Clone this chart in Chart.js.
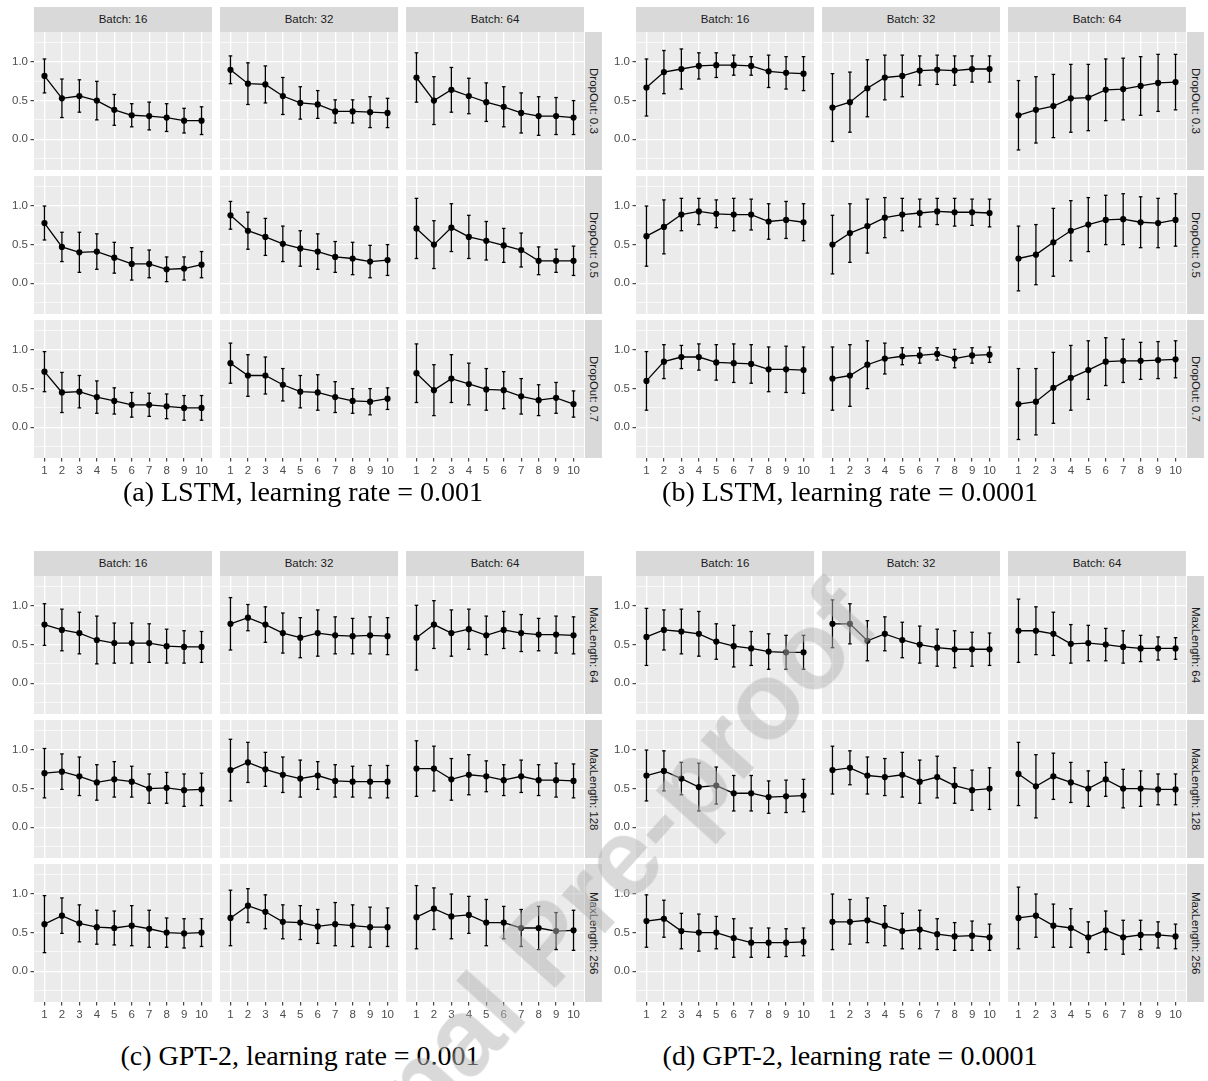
<!DOCTYPE html>
<html>
<head>
<meta charset="utf-8">
<script src="https://cdn.jsdelivr.net/npm/chart.js@4.4.1/dist/chart.umd.min.js"></script>
<style>
  html, body { margin: 0; padding: 0; background: #ffffff; }
  #fig { position: relative; width: 1208px; height: 1081px; overflow: hidden;
         font-family: "Liberation Sans", Arial, sans-serif; }
  #fig canvas { position: absolute; }
  .strip-top { position: absolute; background: #D9D9D9; color: #1A1A1A; font-size: 11.5px;
               display: flex; align-items: center; justify-content: center; white-space: nowrap; }
  .strip-right { position: absolute; background: #D9D9D9; color: #1A1A1A; font-size: 11.5px;
                 writing-mode: vertical-rl; display: flex; align-items: center; justify-content: center;
                 white-space: nowrap; }
  .caption { position: absolute; font-family: "Liberation Serif", "Times New Roman", serif;
             font-size: 28px; color: #000; white-space: nowrap; transform: translate(-50%, -50%); }
  .stamp { position: absolute; font-family: "Liberation Sans", Arial, sans-serif; font-weight: bold;
           font-size: 110px; line-height: 1; white-space: nowrap; color: rgba(180, 180, 180, 0.5);
           transform-origin: 0 100%; pointer-events: none; }
</style>
</head>
<body>
<div id="fig"></div>
<script>
// ---- shared axis values ----
const epochs = [1, 2, 3, 4, 5, 6, 7, 8, 9, 10];
const yTickValues = [-0.25, 0, 0.25, 0.5, 0.75, 1, 1.25];
const yMajorValues = [0, 0.5, 1];
const yRange = [-0.40, 1.39];
const xRange = [0.4, 10.6];

// ---- facet labels ----
const batchLabels = ['Batch: 16', 'Batch: 32', 'Batch: 64'];
const dropoutLabels = ['DropOut: 0.3', 'DropOut: 0.5', 'DropOut: 0.7'];
const maxLengthLabels = ['MaxLength: 64', 'MaxLength: 128', 'MaxLength: 256'];
const captionTexts = [
  '(a) LSTM, learning rate = 0.001',
  '(b) LSTM, learning rate = 0.0001',
  '(c) GPT-2, learning rate = 0.001',
  '(d) GPT-2, learning rate = 0.0001'
];
const stampText = 'Journal Pre-proof';

// ---- (a) LSTM, lr 0.001: rows DropOut 0.3/0.5/0.7, columns Batch 16/32/64 ----
const lstmFastMean = [
  [0.82, 0.53, 0.56, 0.50, 0.38, 0.31, 0.30, 0.28, 0.24, 0.24],
  [0.90, 0.72, 0.71, 0.56, 0.47, 0.45, 0.36, 0.36, 0.35, 0.34],
  [0.80, 0.50, 0.64, 0.56, 0.48, 0.42, 0.34, 0.30, 0.30, 0.28],
  [0.78, 0.47, 0.40, 0.41, 0.33, 0.25, 0.25, 0.18, 0.19, 0.24],
  [0.88, 0.68, 0.60, 0.51, 0.45, 0.41, 0.34, 0.32, 0.28, 0.30],
  [0.71, 0.50, 0.72, 0.60, 0.55, 0.49, 0.43, 0.29, 0.29, 0.29],
  [0.72, 0.45, 0.46, 0.39, 0.34, 0.29, 0.29, 0.27, 0.25, 0.25],
  [0.83, 0.67, 0.67, 0.55, 0.46, 0.45, 0.39, 0.34, 0.33, 0.37],
  [0.70, 0.48, 0.63, 0.56, 0.49, 0.48, 0.40, 0.35, 0.38, 0.30]
];
const lstmFastSd = [
  [0.22, 0.25, 0.21, 0.25, 0.20, 0.15, 0.18, 0.18, 0.16, 0.18],
  [0.18, 0.27, 0.24, 0.24, 0.21, 0.18, 0.15, 0.15, 0.20, 0.19],
  [0.32, 0.31, 0.29, 0.23, 0.25, 0.26, 0.26, 0.25, 0.24, 0.22],
  [0.22, 0.19, 0.26, 0.23, 0.20, 0.21, 0.18, 0.16, 0.15, 0.17],
  [0.18, 0.24, 0.24, 0.23, 0.23, 0.23, 0.20, 0.21, 0.21, 0.20],
  [0.39, 0.31, 0.31, 0.28, 0.25, 0.22, 0.22, 0.18, 0.15, 0.19],
  [0.26, 0.26, 0.21, 0.21, 0.17, 0.16, 0.15, 0.16, 0.16, 0.16],
  [0.26, 0.27, 0.24, 0.21, 0.21, 0.23, 0.20, 0.16, 0.17, 0.14],
  [0.38, 0.33, 0.31, 0.27, 0.27, 0.24, 0.23, 0.20, 0.20, 0.17]
];

// ---- (b) LSTM, lr 0.0001 ----
const lstmSlowMean = [
  [0.67, 0.87, 0.91, 0.95, 0.96, 0.96, 0.95, 0.88, 0.86, 0.85],
  [0.41, 0.48, 0.66, 0.80, 0.82, 0.89, 0.90, 0.89, 0.91, 0.91],
  [0.31, 0.38, 0.43, 0.53, 0.54, 0.64, 0.65, 0.69, 0.73, 0.74],
  [0.61, 0.73, 0.89, 0.93, 0.90, 0.89, 0.89, 0.80, 0.82, 0.79],
  [0.50, 0.65, 0.74, 0.85, 0.89, 0.91, 0.93, 0.92, 0.92, 0.91],
  [0.32, 0.37, 0.53, 0.68, 0.76, 0.82, 0.83, 0.79, 0.78, 0.82],
  [0.60, 0.85, 0.91, 0.91, 0.84, 0.83, 0.82, 0.75, 0.75, 0.74],
  [0.63, 0.67, 0.81, 0.89, 0.92, 0.93, 0.95, 0.89, 0.93, 0.94],
  [0.30, 0.33, 0.51, 0.64, 0.74, 0.85, 0.86, 0.86, 0.87, 0.88]
];
const lstmSlowSd = [
  [0.37, 0.28, 0.26, 0.17, 0.16, 0.13, 0.12, 0.21, 0.21, 0.22],
  [0.44, 0.39, 0.37, 0.29, 0.27, 0.19, 0.19, 0.19, 0.17, 0.17],
  [0.45, 0.43, 0.41, 0.44, 0.43, 0.40, 0.40, 0.38, 0.37, 0.36],
  [0.39, 0.35, 0.21, 0.17, 0.18, 0.21, 0.20, 0.23, 0.24, 0.24],
  [0.38, 0.38, 0.35, 0.26, 0.21, 0.18, 0.17, 0.18, 0.17, 0.18],
  [0.42, 0.39, 0.44, 0.39, 0.35, 0.32, 0.33, 0.33, 0.32, 0.34],
  [0.38, 0.22, 0.15, 0.17, 0.23, 0.25, 0.25, 0.29, 0.30, 0.30],
  [0.41, 0.40, 0.31, 0.20, 0.11, 0.10, 0.08, 0.12, 0.10, 0.10],
  [0.46, 0.43, 0.46, 0.42, 0.38, 0.31, 0.28, 0.24, 0.24, 0.24]
];

// ---- (c) GPT-2, lr 0.001: rows MaxLength 64/128/256 ----
const gptFastMean = [
  [0.76, 0.69, 0.65, 0.56, 0.52, 0.52, 0.52, 0.48, 0.47, 0.47],
  [0.77, 0.85, 0.76, 0.65, 0.59, 0.65, 0.62, 0.61, 0.62, 0.61],
  [0.59, 0.76, 0.65, 0.70, 0.62, 0.69, 0.65, 0.63, 0.63, 0.62],
  [0.70, 0.72, 0.66, 0.58, 0.62, 0.59, 0.50, 0.51, 0.48, 0.49],
  [0.74, 0.84, 0.75, 0.68, 0.63, 0.67, 0.60, 0.59, 0.59, 0.59],
  [0.76, 0.76, 0.62, 0.68, 0.66, 0.61, 0.66, 0.61, 0.61, 0.60],
  [0.61, 0.72, 0.62, 0.57, 0.56, 0.59, 0.55, 0.50, 0.49, 0.50],
  [0.69, 0.85, 0.77, 0.64, 0.63, 0.58, 0.61, 0.59, 0.57, 0.57],
  [0.70, 0.81, 0.71, 0.73, 0.63, 0.63, 0.56, 0.56, 0.52, 0.53]
];
const gptFastSd = [
  [0.27, 0.27, 0.27, 0.31, 0.26, 0.26, 0.25, 0.22, 0.21, 0.20],
  [0.34, 0.17, 0.23, 0.26, 0.26, 0.30, 0.24, 0.23, 0.24, 0.24],
  [0.42, 0.31, 0.30, 0.26, 0.25, 0.24, 0.24, 0.21, 0.24, 0.24],
  [0.32, 0.23, 0.25, 0.23, 0.23, 0.20, 0.19, 0.20, 0.21, 0.21],
  [0.40, 0.26, 0.22, 0.23, 0.24, 0.18, 0.21, 0.20, 0.21, 0.21],
  [0.36, 0.29, 0.27, 0.26, 0.20, 0.20, 0.21, 0.20, 0.22, 0.22],
  [0.37, 0.23, 0.24, 0.22, 0.22, 0.26, 0.24, 0.19, 0.19, 0.18],
  [0.36, 0.22, 0.22, 0.22, 0.22, 0.22, 0.28, 0.27, 0.26, 0.25],
  [0.41, 0.27, 0.29, 0.24, 0.30, 0.21, 0.24, 0.28, 0.24, 0.26]
];

// ---- (d) GPT-2, lr 0.0001 ----
const gptSlowMean = [
  [0.60, 0.69, 0.67, 0.64, 0.54, 0.48, 0.45, 0.41, 0.40, 0.40],
  [0.77, 0.77, 0.55, 0.64, 0.56, 0.50, 0.46, 0.44, 0.44, 0.44],
  [0.68, 0.68, 0.64, 0.51, 0.52, 0.50, 0.47, 0.45, 0.45, 0.45],
  [0.67, 0.73, 0.63, 0.52, 0.54, 0.44, 0.44, 0.39, 0.40, 0.41],
  [0.74, 0.77, 0.67, 0.65, 0.68, 0.59, 0.65, 0.54, 0.48, 0.50],
  [0.69, 0.53, 0.66, 0.58, 0.50, 0.62, 0.50, 0.50, 0.49, 0.49],
  [0.65, 0.68, 0.52, 0.50, 0.50, 0.43, 0.37, 0.37, 0.37, 0.38],
  [0.64, 0.64, 0.66, 0.59, 0.52, 0.54, 0.48, 0.45, 0.46, 0.44],
  [0.69, 0.72, 0.59, 0.56, 0.44, 0.53, 0.44, 0.47, 0.47, 0.45]
];
const gptSlowSd = [
  [0.37, 0.26, 0.29, 0.29, 0.23, 0.27, 0.22, 0.23, 0.22, 0.22],
  [0.31, 0.26, 0.26, 0.22, 0.23, 0.24, 0.24, 0.24, 0.22, 0.21],
  [0.41, 0.31, 0.28, 0.25, 0.23, 0.21, 0.21, 0.17, 0.15, 0.14],
  [0.33, 0.26, 0.21, 0.31, 0.24, 0.23, 0.23, 0.21, 0.21, 0.21],
  [0.31, 0.22, 0.24, 0.24, 0.29, 0.28, 0.27, 0.23, 0.26, 0.27],
  [0.41, 0.41, 0.30, 0.26, 0.23, 0.22, 0.25, 0.23, 0.20, 0.20],
  [0.34, 0.24, 0.23, 0.24, 0.21, 0.25, 0.19, 0.19, 0.18, 0.18],
  [0.36, 0.29, 0.29, 0.26, 0.23, 0.25, 0.20, 0.18, 0.19, 0.17],
  [0.40, 0.28, 0.28, 0.25, 0.20, 0.25, 0.22, 0.19, 0.17, 0.16]
];

// ---- page geometry (px) ----
const AXIS_W = 34, AXIS_H = 26;
const PANEL_W = 178, PANEL_H = 138;
const COL_STEP = 186, ROW_STEP = 144;
const PANEL_TOP = 32, STRIP_TOP = 6.5, STRIP_H = 25.5, SIDE_STRIP_W = 17;
const FONT = '"Liberation Sans", Arial, sans-serif';

const figures = [
  { ox: 0,   oy: 0,   mean: lstmFastMean, sd: lstmFastSd, rows: dropoutLabels,   cap: captionTexts[0], capX: 303, capY: 492 },
  { ox: 602, oy: 0,   mean: lstmSlowMean, sd: lstmSlowSd, rows: dropoutLabels,   cap: captionTexts[1], capX: 850, capY: 492 },
  { ox: 0,   oy: 544, mean: gptFastMean,  sd: gptFastSd,  rows: maxLengthLabels, cap: captionTexts[2], capX: 300, capY: 1056 },
  { ox: 602, oy: 544, mean: gptSlowMean,  sd: gptSlowSd,  rows: maxLengthLabels, cap: captionTexts[3], capX: 850, capY: 1056 }
];

const fig = document.getElementById('fig');
const isMajor = v => yMajorValues.some(m => Math.abs(m - v) < 1e-9);

// grey panel background behind the grid
const panelBackground = {
  id: 'panelBackground',
  beforeDraw(chart) {
    const a = chart.chartArea, ctx = chart.ctx;
    ctx.save();
    ctx.fillStyle = '#EBEBEB';
    ctx.fillRect(a.left, a.top, a.right - a.left, a.bottom - a.top);
    ctx.restore();
  }
};

function addDiv(cls, text, left, top, width, height) {
  const d = document.createElement('div');
  d.className = cls;
  d.textContent = text;
  Object.assign(d.style, { left: left + 'px', top: top + 'px', width: width + 'px', height: height + 'px' });
  fig.appendChild(d);
  return d;
}

function drawFacet(left, top, showY, showX, mean, sd) {
  const w = PANEL_W + (showY ? AXIS_W : 0);
  const h = PANEL_H + (showX ? AXIS_H : 0);
  const cv = document.createElement('canvas');
  cv.width = w; cv.height = h;
  Object.assign(cv.style, { left: (left - (showY ? AXIS_W : 0)) + 'px', top: top + 'px', width: w + 'px', height: h + 'px' });
  fig.appendChild(cv);

  const points = epochs.map((e, i) => ({ x: e, y: mean[i] }));
  const whiskers = [];
  const caps = [];
  epochs.forEach((e, i) => {
    const lo = mean[i] - sd[i], hi = mean[i] + sd[i];
    whiskers.push({ x: e, y: lo }, { x: e, y: hi }, { x: e, y: null });
    caps.push({ x: e, y: lo }, { x: e, y: hi });
  });

  new Chart(cv, {
    type: 'line',
    data: {
      datasets: [
        { data: whiskers, borderColor: '#000', borderWidth: 1.3, pointRadius: 0, spanGaps: false, order: 3 },
        { data: caps, showLine: false, pointStyle: 'line', pointRadius: 1.8, pointBorderColor: '#000',
          pointBorderWidth: 1.3, order: 2 },
        { data: points, borderColor: '#000', borderWidth: 1.3, pointRadius: 3.1, pointBackgroundColor: '#000',
          pointBorderWidth: 0, tension: 0, order: 1 }
      ]
    },
    options: {
      responsive: false, animation: false, devicePixelRatio: 1, events: [],
      layout: { padding: 0, autoPadding: false },
      plugins: { legend: { display: false }, tooltip: { enabled: false } },
      scales: {
        x: {
          type: 'linear', min: xRange[0], max: xRange[1],
          afterBuildTicks: s => { s.ticks = epochs.map(v => ({ value: v })); },
          afterFit: s => { s.height = showX ? AXIS_H : 0; s.paddingLeft = 0; s.paddingRight = 0; },
          border: { display: false },
          grid: { color: '#FFFFFF', lineWidth: 1.3, drawTicks: showX, tickLength: 3.5,
                  tickColor: '#333333', tickWidth: 1.1 },
          ticks: { display: showX, color: '#4D4D4D', font: { family: FONT, size: 11.5 }, padding: 2,
                   maxRotation: 0, autoSkip: false, callback: v => String(v) }
        },
        y: {
          type: 'linear', min: yRange[0], max: yRange[1],
          afterBuildTicks: s => { s.ticks = yTickValues.map(v => ({ value: v })); },
          afterFit: s => { s.width = showY ? AXIS_W : 0; s.paddingTop = 0; s.paddingBottom = 0; },
          border: { display: false },
          grid: { color: '#FFFFFF',
                  lineWidth: c => (c.tick && isMajor(c.tick.value)) ? 1.3 : 0.65,
                  drawTicks: showY, tickLength: 3.5,
                  tickColor: c => (c.tick && isMajor(c.tick.value)) ? '#333333' : 'rgba(0,0,0,0)',
                  tickWidth: 1.1 },
          ticks: { display: showY, color: '#4D4D4D', font: { family: FONT, size: 11.5 }, padding: 2.5,
                   callback: v => isMajor(v) ? v.toFixed(1) : '' }
        }
      }
    },
    plugins: [panelBackground]
  });
}

figures.forEach(f => {
  for (let c = 0; c < 3; c++) {
    addDiv('strip-top', batchLabels[c], f.ox + AXIS_W + c * COL_STEP, f.oy + STRIP_TOP, PANEL_W, STRIP_H);
  }
  for (let r = 0; r < 3; r++) {
    const top = f.oy + PANEL_TOP + r * ROW_STEP;
    for (let c = 0; c < 3; c++) {
      const left = f.ox + AXIS_W + c * COL_STEP;
      drawFacet(left, top, c === 0, r === 2, f.mean[r * 3 + c], f.sd[r * 3 + c]);
    }
    addDiv('strip-right', f.rows[r], f.ox + AXIS_W + 2 * COL_STEP + PANEL_W + 1, top, SIDE_STRIP_W, PANEL_H);
  }
  const cap = document.createElement('div');
  cap.className = 'caption';
  cap.textContent = f.cap;
  cap.style.left = f.capX + 'px';
  cap.style.top = f.capY + 'px';
  fig.appendChild(cap);
});

// diagonal journal stamp laid over the lower figures
const stamp = document.createElement('div');
stamp.className = 'stamp';
stamp.textContent = stampText;
stamp.style.left = '277px';
stamp.style.top = '1213px';
stamp.style.transform = 'rotate(-48deg)';
fig.appendChild(stamp);
</script>
</body>
</html>
